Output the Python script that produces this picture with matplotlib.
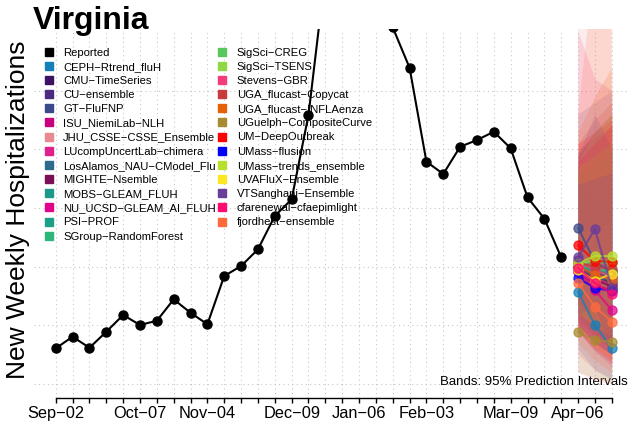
import matplotlib.pyplot as plt
from matplotlib.lines import Line2D

plt.rcParams['font.family'] = ['Liberation Sans', 'DejaVu Sans']

# weekly reported hospitalizations, starting Sep-02
reported = [30.4, 40.3, 30.9, 44.5, 58.8, 50.3, 53.9, 72.1, 60.7, 50.9,
            92.0, 100.5, 114.7, 143.1, 157.3, 229.1, 350, 430, 420, 360,
            303.8, 269.4, 189.4, 178.9, 202.1, 207.8, 214.9, 200.8, 159.0,
            140.8, 107.9]

label_weeks = [0, 5, 9, 14, 18, 22, 27, 31]
week_labels = ["Sep\u221202", "Oct\u221207", "Nov\u221204", "Dec\u221209",
               "Jan\u221206", "Feb\u221203", "Mar\u221209", "Apr\u221206"]
n_ticks = 34

horizon_weeks = [31, 32, 33]

model_names = [
    "CEPH\u2212Rtrend_fluH", "CMU\u2212TimeSeries", "CU\u2212ensemble",
    "GT\u2212FluFNP", "ISU_NiemiLab\u2212NLH", "JHU_CSSE\u2212CSSE_Ensemble",
    "LUcompUncertLab\u2212chimera", "LosAlamos_NAU\u2212CModel_Flu",
    "MIGHTE\u2212Nsemble", "MOBS\u2212GLEAM_FLUH", "NU_UCSD\u2212GLEAM_AI_FLUH",
    "PSI\u2212PROF", "SGroup\u2212RandomForest", "SigSci\u2212CREG",
    "SigSci\u2212TSENS", "Stevens\u2212GBR", "UGA_flucast\u2212Copycat",
    "UGA_flucast\u2212INFLAenza", "UGuelph\u2212CompositeCurve",
    "UM\u2212DeepOutbreak", "UMass\u2212flusion", "UMass\u2212trends_ensemble",
    "UVAFluX\u2212Ensemble", "VTSanghani\u2212Ensemble",
    "cfarenewal\u2212cfaepimlight", "fjordhest\u2212ensemble",
]

model_colors = [
    "#1380B8", "#3F1163", "#4C2A7F", "#3D4A8A", "#C8007F", "#E98A93",
    "#E0208C", "#2E6A8E", "#7B0E56", "#1D998B", "#E2058C", "#1E9F88",
    "#2DB77B", "#57C75E", "#8FD744", "#F53C7A", "#C93A3A", "#E6600A",
    "#A88B30", "#FF0000", "#0000FF", "#B5E02E", "#FDE725", "#6A3D9A",
    "#FF0A70", "#FF6A3D",
]

model_median = [
    [78.6, 50.3, 30.5], [100, 92, 86], [106, 95, 90], [133, 104, 95],
    [96, 84, 80], [101, 98, 96], [97, 90, 84], [99, 91, 88],
    [98, 89, 83], [100, 96, 92], [95, 80, 63], [101, 97, 95],
    [102, 99, 96], [103, 104, 103], [102, 106, 104], [104, 97, 91],
    [103, 100, 98], [100, 93, 89], [44, 37.5, 36], [118, 105, 104],
    [90, 82, 79], [103, 109, 109], [97, 88, 94], [108, 132, 82],
    [99, 86, 77], [86, 66, 53],
]

model_lower = [
    [30, 12, 3], [50, 35, 25], [60, 40, 30], [75, 45, 30],
    [45, 28, 18], [10, 2, 0], [50, 35, 25], [55, 40, 30],
    [55, 40, 30], [60, 45, 35], [45, 28, 15], [65, 50, 40],
    [60, 45, 35], [65, 55, 45], [60, 50, 40], [25, 12, 5],
    [50, 35, 25], [45, 30, 20], [10, 5, 1], [70, 50, 40],
    [50, 35, 25], [60, 50, 40], [50, 30, 20], [60, 65, 30],
    [45, 30, 20], [35, 20, 10],
]

model_upper = [
    [170, 160, 150], [195, 215, 230], [200, 210, 220], [230, 240, 250],
    [195, 215, 230], [420, 450, 480], [190, 205, 220], [185, 195, 205],
    [180, 190, 200], [180, 195, 205], [185, 195, 205], [175, 185, 195],
    [185, 195, 205], [180, 195, 205], [185, 205, 220], [300, 260, 250],
    [205, 225, 240], [215, 245, 270], [130, 130, 140], [205, 215, 225],
    [170, 175, 180], [190, 215, 230], [185, 195, 205], [195, 230, 200],
    [190, 205, 220], [230, 360, 450],
]

fig = plt.figure(figsize=(6.29, 4.32), dpi=100)
ax = fig.add_axes([33.5 / 629, 34 / 432, (634 - 33.5) / 629, (398 - 29) / 432])
ax.set_xlim(-1.32, 34.32)
ax.set_ylim(-11.9, 302.4)

# dotted grid
for w in range(n_ticks):
    ax.axvline(w, color="#C8C8C8", ls=(0, (1, 3)), lw=0.8, zorder=0)
for g in range(0, 300, 50):
    ax.axhline(g, color="#C8C8C8", ls=(0, (1, 3)), lw=0.8, zorder=0)

ax.text(0.990, 0.043, "Bands: 95% Prediction Intervals", transform=ax.transAxes,
        ha="right", va="center", fontsize=9.5, zorder=0.8)

# prediction bands
for lo, hi, col in zip(model_lower, model_upper, model_colors):
    ax.fill_between(horizon_weeks, lo, hi, color=col, alpha=0.16, lw=0,
                    zorder=1)

# model medians
for med, col in zip(model_median, model_colors):
    ax.plot(horizon_weeks, med, "o-", color=col, lw=1.5, ms=6.5, alpha=0.75,
            zorder=3)

ax.plot(range(len(reported)), reported, "o-", color="black", lw=1.5, ms=6.5,
        zorder=4)

for s in ["top", "right", "left"]:
    ax.spines[s].set_visible(False)
ax.spines["bottom"].set_bounds(0, n_ticks - 1)
ax.spines["bottom"].set_linewidth(1.0)
ax.set_yticks([])
labels = [""] * n_ticks
for w, lab in zip(label_weeks, week_labels):
    labels[w] = lab
ax.set_xticks(range(n_ticks))
ax.set_xticklabels(labels)
ax.tick_params(axis="x", length=3.6, width=1.0, pad=2, labelsize=11.8)

handles = [Line2D([], [], marker="s", ls="none", color="black", ms=6)]
handles += [Line2D([], [], marker="s", ls="none", color=c, ms=6)
            for c in model_colors]
leg = ax.legend(handles, ["Reported"] + model_names, loc="upper left",
                bbox_to_anchor=(44 / 629, 1 - 47.5 / 432),
                bbox_transform=fig.transFigure, ncol=2, frameon=False,
                fontsize=8.1, handlelength=0.8, handletextpad=0.9,
                columnspacing=0.15, labelspacing=0.37, borderpad=0,
                borderaxespad=0)
leg.set_zorder(2.5)

fig.text(33 / 629, 1 - 29 / 432, "Virginia", fontsize=23, fontweight="bold",
         va="baseline", ha="left")
fig.text(0.029, 0.514, "New Weekly Hospitalizations", fontsize=19,
         rotation=90, va="center", ha="center")

fig.savefig("out.png", dpi=100)
